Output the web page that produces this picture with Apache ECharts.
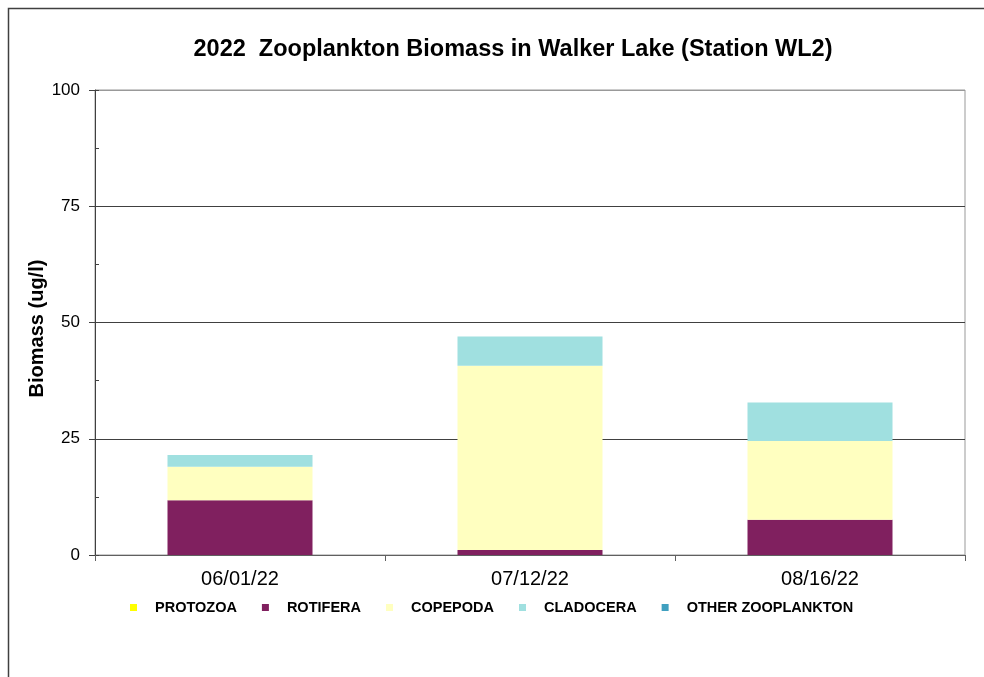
<!DOCTYPE html>
<html>
<head>
<meta charset="utf-8">
<script src="https://cdn.jsdelivr.net/npm/echarts@6/dist/echarts.min.js"></script>
<style>
html,body{margin:0;padding:0;background:#fff;}
#chart{width:984px;height:677px;}
</style>
</head>
<body>
<div id="chart"></div>
<script>
var categories = ['06/01/22', '07/12/22', '08/16/22'];
var protozoa = [0, 0, 0];
var rotifera = [11.8, 1.1, 7.6];
var copepoda = [7.2, 39.6, 16.9];
var cladocera = [2.5, 6.3, 8.3];
var otherZoo = [0, 0, 0];
var seriesNames = ['PROTOZOA', 'ROTIFERA', 'COPEPODA', 'CLADOCERA', 'OTHER ZOOPLANKTON'];
var seriesColors = ['#FFFF00', '#80205F', '#FFFFC0', '#A0E0E0', '#40A0C0'];
var seriesData = [protozoa, rotifera, copepoda, cladocera, otherZoo];

var FONT = '"Liberation Sans", Arial, sans-serif';
var chart = echarts.init(document.getElementById('chart'), null, {renderer: 'canvas'});

var series = seriesNames.map(function (n, i) {
  return {
    name: n,
    type: 'bar',
    stack: 'total',
    barWidth: '50%',
    data: seriesData[i],
    itemStyle: {color: seriesColors[i]},
    emphasis: {disabled: true}
  };
});

chart.setOption({
  animation: false,
  backgroundColor: '#fff',
  graphic: [{
    type: 'rect',
    shape: {x: 8.5, y: 8.5, width: 1000, height: 700},
    style: {fill: 'none', stroke: '#404040', lineWidth: 1.5},
    silent: true,
    z: -1
  }],
  title: {
    text: '2022  Zooplankton Biomass in Walker Lake (Station WL2)',
    left: 508,
    textAlign: 'center',
    top: 33,
    textStyle: {fontFamily: FONT, fontSize: 23.5, fontWeight: 'bold', color: '#000'}
  },
  legend: {
    data: seriesNames,
    left: 125,
    top: 595,
    icon: 'rect',
    itemWidth: 7,
    itemHeight: 7,
    itemGap: 25,
    textStyle: {fontFamily: FONT, fontSize: 14.5, fontWeight: 'bold', color: '#000', padding: [0, 0, 0, 13]}
  },
  grid: {
    left: 95, right: 19, top: 90, bottom: 122,
    show: true, borderColor: '#999', borderWidth: 1, backgroundColor: 'transparent'
  },
  xAxis: {
    type: 'category',
    data: categories,
    axisLine: {lineStyle: {color: '#606060', width: 1}},
    axisTick: {show: true, alignWithLabel: false, length: 6, lineStyle: {color: '#606060'}},
    axisLabel: {fontFamily: FONT, fontSize: 20, color: '#000', margin: 14}
  },
  yAxis: [{
    type: 'value',
    min: 0, max: 100, interval: 25,
    name: 'Biomass (ug/l)',
    nameLocation: 'middle',
    nameGap: 48,
    nameMoveOverlap: false,
    nameTextStyle: {fontFamily: FONT, fontSize: 20, fontWeight: 'bold', color: '#000', padding: [0, 12, 0, 0]},
    axisLine: {show: true, lineStyle: {color: '#404040', width: 1}},
    axisTick: {show: true, length: 6, lineStyle: {color: '#404040'}},
    axisLabel: {fontFamily: FONT, fontSize: 17, color: '#000', margin: 15},
    splitLine: {show: true, lineStyle: {color: ['#606060', '#404040', '#404040', '#404040', '#999'], width: 1}}
  }, {
    type: 'value',
    position: 'left',
    min: 0, max: 100, interval: 12.5,
    axisLine: {show: false},
    axisTick: {show: true, inside: true, length: 4, lineStyle: {color: '#404040'}},
    axisLabel: {show: false},
    splitLine: {show: false}
  }],
  series: series
});
</script>
</body>
</html>
